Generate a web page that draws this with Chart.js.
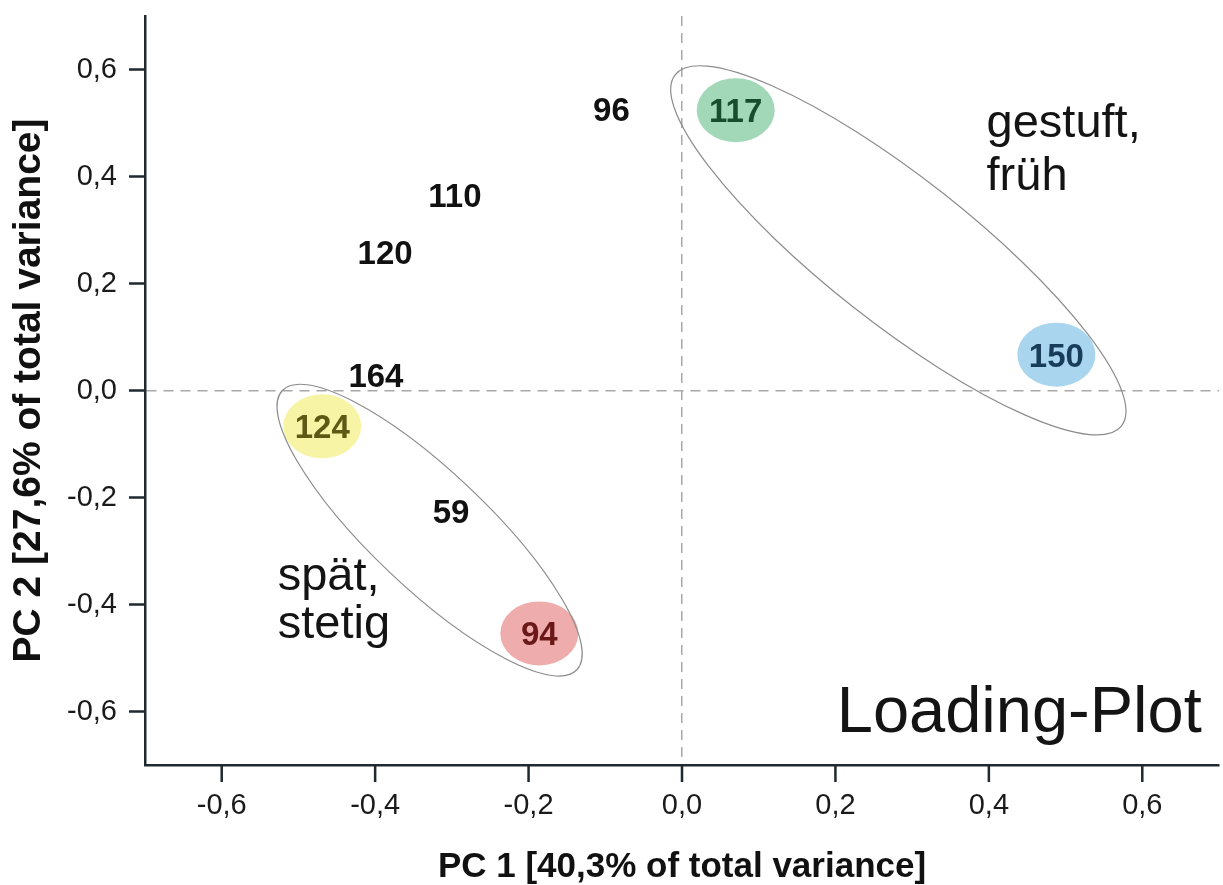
<!DOCTYPE html>
<html lang="de">
<head>
<meta charset="UTF-8">
<title>Loading-Plot</title>
<script src="https://cdn.jsdelivr.net/npm/chart.js"></script>
<style>
  html, body { margin: 0; padding: 0; background: #fff; }
  #wrap { width: 1223px; height: 885px; }
</style>
</head>
<body>
<div id="wrap"><canvas id="loadingChart"></canvas></div>
<script>
// loadings
const varNames = ['96', '117', '110', '120', '164', '124', '59', '94', '150'];
const pc1 = [-0.092, 0.070, -0.296, -0.387, -0.399, -0.469, -0.301, -0.186, 0.488];
const pc2 = [0.526, 0.524, 0.366, 0.259, 0.029, -0.067, -0.225, -0.454, 0.067];

// axis range and tick step (both axes)
const axisMin = -0.7;
const axisMax = 0.7;
const tickStep = 0.1;

const xTitle = 'PC 1 [40,3% of total variance]';
const yTitle = 'PC 2 [27,6% of total variance]';

// group ellipses in data units: centre, major semi-axis vector, minor semi-axis vector
const groupCentre = [[0.282, 0.262], [-0.329, -0.261]];
const groupMajor = [[0.291, -0.328], [0.192, -0.261]];
const groupMinor = [[-0.058, -0.107], [-0.052, -0.079]];

// free text in the plot (left edge, baseline, in data units)
const noteText = ['gestuft,', 'früh', 'spät,', 'stetig', 'Loading-Plot'];
const noteX = [0.397, 0.397, -0.527, -0.527, 0.2017];
const noteY = [0.4735, 0.3744, -0.3736, -0.4634, -0.639];

// styles
const FONT = '"Liberation Sans", Arial, Helvetica, sans-serif';
const axisColor = '#1f2a30';
const highlight = {
  '117': { fill: '#a2d8b8', text: '#184d2c' },
  '124': { fill: '#f8f4a6', text: '#5c5a14' },
  '94':  { fill: '#efacac', text: '#6a1818' },
  '150': { fill: '#aad5ee', text: '#173d5a' }
};
const noteSize = [47, 47, 47, 47, 65];

const fmt = v => (Math.abs(v) < 1e-9 ? 0 : v).toFixed(1).replace('.', ',');
const isMajor = v => Math.abs(Math.round(v * 10)) % 2 === 0;

Chart.defaults.font.family = FONT;

const overlay = {
  id: 'overlay',
  afterDatasetsDraw(chart) {
    const { ctx, scales: { x, y } } = chart;
    const pts = chart.getDatasetMeta(0).data;
    ctx.save();

    // coloured blobs behind the highlighted variables
    pts.forEach((p, i) => {
      const hl = highlight[varNames[i]];
      if (!hl) return;
      ctx.fillStyle = hl.fill;
      ctx.beginPath();
      ctx.ellipse(p.x, p.y, 39, 32, 0, 0, Math.PI * 2);
      ctx.fill();
    });

    // group outlines
    ctx.strokeStyle = '#8c8c8c';
    ctx.lineWidth = 1.2;
    groupCentre.forEach((c, g) => {
      const cx = x.getPixelForValue(c[0]);
      const cy = y.getPixelForValue(c[1]);
      const ux = x.getPixelForValue(c[0] + groupMajor[g][0]) - cx;
      const uy = y.getPixelForValue(c[1] + groupMajor[g][1]) - cy;
      const vx = x.getPixelForValue(c[0] + groupMinor[g][0]) - cx;
      const vy = y.getPixelForValue(c[1] + groupMinor[g][1]) - cy;
      ctx.save();
      ctx.transform(ux, uy, vx, vy, cx, cy);
      ctx.beginPath();
      ctx.arc(0, 0, 1, 0, Math.PI * 2);
      ctx.restore();
      ctx.stroke();
    });

    // variable labels
    ctx.font = 'bold 33px ' + FONT;
    ctx.textAlign = 'center';
    ctx.textBaseline = 'alphabetic';
    pts.forEach((p, i) => {
      const hl = highlight[varNames[i]];
      ctx.fillStyle = hl ? hl.text : '#111';
      ctx.fillText(varNames[i], p.x, p.y + 12);
    });

    // notes
    ctx.textAlign = 'left';
    ctx.fillStyle = '#141414';
    noteText.forEach((t, i) => {
      ctx.font = noteSize[i] + 'px ' + FONT;
      ctx.fillText(t, x.getPixelForValue(noteX[i]), y.getPixelForValue(noteY[i]));
    });
    ctx.restore();
  },
  afterDraw(chart) {
    // major and minor tick marks
    const { ctx, scales: { x, y } } = chart;
    ctx.save();
    ctx.strokeStyle = axisColor;
    ctx.lineWidth = 2.5;
    ctx.beginPath();
    x.ticks.forEach(t => {
      const p = x.getPixelForValue(t.value);
      ctx.moveTo(p, x.top);
      ctx.lineTo(p, x.top + (isMajor(t.value) ? 17 : 8));
    });
    y.ticks.forEach(t => {
      const p = y.getPixelForValue(t.value);
      ctx.moveTo(y.right, p);
      ctx.lineTo(y.right - (isMajor(t.value) ? 16 : 8), p);
    });
    ctx.stroke();
    ctx.restore();
  }
};

const zeroLine = c => (c.tick && Math.abs(c.tick.value) < 1e-9 ? '#a8a8a8' : 'transparent');

function axis(title, size, pad) {
  return {
    type: 'linear',
    min: axisMin,
    max: axisMax,
    ticks: {
      stepSize: tickStep,
      maxTicksLimit: 20,
      autoSkip: false,
      maxRotation: 0,
      color: '#1a1a1a',
      font: { size: 29 },
      callback: v => (isMajor(v) ? fmt(v) : null)
    },
    grid: { drawTicks: false, lineWidth: 1.5, color: zeroLine },
    border: { color: axisColor, width: 2.5, dash: [10, 7] },
    title: {
      display: true,
      text: title,
      color: '#111',
      font: { size: size, weight: 'bold', lineHeight: 1 },
      padding: pad
    }
  };
}

const xAxis = axis(xTitle, 35, { top: 0, bottom: 0 });
xAxis.ticks.padding = 24;
xAxis.afterFit = s => { s.height = 120; s.paddingLeft = 0; s.paddingRight = 0; };
const yAxis = axis(yTitle, 39, { top: 10, bottom: 0 });
yAxis.ticks.padding = 28;
yAxis.afterFit = s => { s.width = 145; s.paddingTop = 0; s.paddingBottom = 0; };

new Chart(document.getElementById('loadingChart'), {
  type: 'scatter',
  data: {
    datasets: [{
      data: pc1.map((v, i) => ({ x: v, y: pc2[i] })),
      pointRadius: 0,
      pointHoverRadius: 0
    }]
  },
  options: {
    responsive: true,
    maintainAspectRatio: false,
    animation: false,
    layout: { padding: { left: 0, right: 4, top: 16, bottom: 0 } },
    plugins: { legend: { display: false }, tooltip: { enabled: false } },
    scales: { x: xAxis, y: yAxis }
  },
  plugins: [overlay]
});
</script>
</body>
</html>
